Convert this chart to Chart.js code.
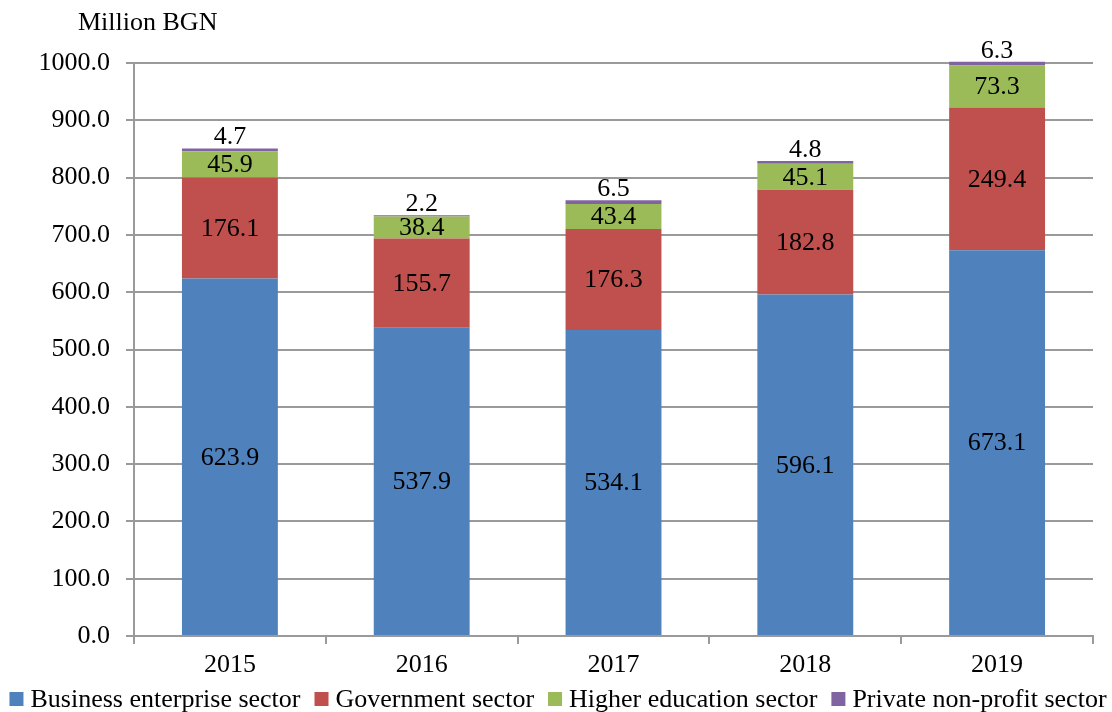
<!DOCTYPE html>
<html>
<head>
<meta charset="utf-8">
<script src="https://cdn.jsdelivr.net/npm/chart.js@4"></script>
<style>
  html, body { margin: 0; padding: 0; background: #fff; }
  #wrap { width: 1112px; height: 712px; }
</style>
</head>
<body>
<div id="wrap"><canvas id="rdChart" width="1112" height="712"></canvas></div>
<script>
const years = ['2015', '2016', '2017', '2018', '2019'];
const businessSector = [623.9, 537.9, 534.1, 596.1, 673.1];
const governmentSector = [176.1, 155.7, 176.3, 182.8, 249.4];
const higherEducation = [45.9, 38.4, 43.4, 45.1, 73.3];
const privateNonProfit = [4.7, 2.2, 6.5, 4.8, 6.3];
const yTicks = [0, 100, 200, 300, 400, 500, 600, 700, 800, 900, 1000];

const FONT = '"Liberation Serif", "Times New Roman", serif';
const gridColor = '#9a9a9a';

// value labels inside the segments, private sector above the bar
const valueLabels = {
    id: 'valueLabels',
    afterDatasetsDraw(chart) {
        const ctx = chart.ctx;
        ctx.save();
        ctx.font = '26px ' + FONT;
        ctx.fillStyle = '#000';
        ctx.textAlign = 'center';
        ctx.textBaseline = 'middle';
        chart.data.datasets.forEach((ds, i) => {
            const meta = chart.getDatasetMeta(i);
            meta.data.forEach((bar, j) => {
                const v = ds.data[j].toFixed(1);
                if (i === 3) {
                    ctx.fillText(v, bar.x, bar.y - 11);
                } else {
                    ctx.fillText(v, bar.x, (bar.y + bar.base) / 2 + 1);
                }
            });
        });
        ctx.restore();
    }
};

// unit caption + legend row
const extras = {
    id: 'extras',
    afterDraw(chart) {
        const ctx = chart.ctx;
        ctx.save();
        ctx.font = '26px ' + FONT;
        ctx.fillStyle = '#000';
        ctx.textBaseline = 'middle';
        ctx.textAlign = 'left';
        ctx.fillText('Million BGN', 78, 23);

        const items = chart.data.datasets.map(ds => ({ text: ds.label, color: ds.backgroundColor }));
        const box = 14, gap = 7, between = 14;
        let total = 0;
        items.forEach((it, k) => {
            it.w = ctx.measureText(it.text).width;
            total += box + gap + it.w + (k > 0 ? between : 0);
        });
        let x = (chart.width - total) / 2 + 2;
        const y = 699;
        items.forEach(it => {
            ctx.fillStyle = it.color;
            ctx.fillRect(x, y - box / 2, box, box);
            ctx.fillStyle = '#000';
            ctx.fillText(it.text, x + box + gap, y + 1);
            x += box + gap + it.w + between;
        });
        ctx.restore();
    }
};

new Chart(document.getElementById('rdChart'), {
    type: 'bar',
    data: {
        labels: years,
        datasets: [
            { label: 'Business enterprise sector', data: businessSector, backgroundColor: '#4F81BD' },
            { label: 'Government sector', data: governmentSector, backgroundColor: '#C0504D' },
            { label: 'Higher education sector', data: higherEducation, backgroundColor: '#9BBB59' },
            { label: 'Private non-profit sector', data: privateNonProfit, backgroundColor: '#8064A2' }
        ]
    },
    options: {
        responsive: false,
        animation: false,
        devicePixelRatio: 1,
        layout: { padding: { top: 63, right: 19, bottom: 30, left: 0 } },
        datasets: {
            bar: { barPercentage: 0.5, categoryPercentage: 1, clip: false, borderWidth: 0 }
        },
        plugins: {
            legend: { display: false },
            tooltip: { enabled: false }
        },
        scales: {
            x: {
                stacked: true,
                afterFit: axis => { axis.height = 46; },
                grid: { offset: true, drawOnChartArea: false, drawTicks: true, tickLength: 8, color: gridColor, lineWidth: 2 },
                border: { color: gridColor, width: 2 },
                ticks: { color: '#000', font: { family: FONT, size: 26 }, padding: 6 }
            },
            y: {
                stacked: true,
                min: 0,
                max: 1000,
                afterFit: axis => { axis.width = 134; },
                afterBuildTicks: axis => { axis.ticks = yTicks.map(v => ({ value: v })); },
                grid: { color: gridColor, lineWidth: 2, tickLength: 8 },
                border: { color: gridColor, width: 2 },
                ticks: {
                    color: '#000',
                    font: { family: FONT, size: 26 },
                    padding: 16,
                    callback: v => v.toFixed(1)
                }
            }
        }
    },
    plugins: [valueLabels, extras]
});
</script>
</body>
</html>
